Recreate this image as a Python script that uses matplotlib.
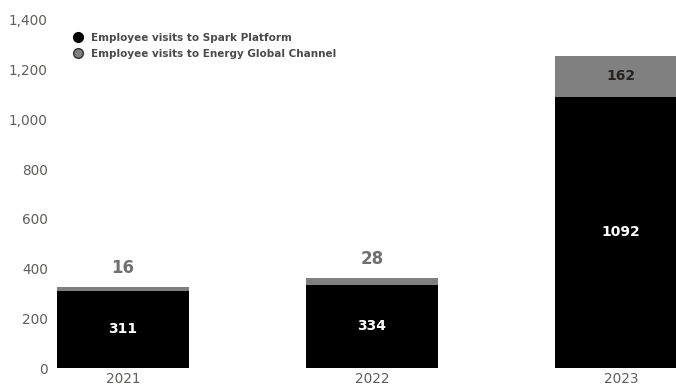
import numpy as np
import matplotlib.pyplot as plt

# datos del gráfico
years = ["2021", "2022", "2023"]
spark = [311, 334, 1092]
energy = [16, 28, 162]
legend_names = ["Employee visits to Spark Platform", "Employee visits to Energy Global Channel"]

black = "#000000"
gray = "#808080"
txt = "#605E5C"

fig = plt.figure(figsize=(6.76, 3.87), dpi=100)
ax = fig.add_axes([50/676, 1-368/387, 1-50/676, (368-20)/387])

x = np.arange(len(years))
w = 0.534
ax.bar(x, spark, w, color=black)
ax.bar(x, energy, w, bottom=spark, color=gray)

# etiquetas de los valores
for i in range(len(years)):
    ax.text(x[i], spark[i]/2, str(spark[i]), ha="center", va="center",
            color="white", fontsize=10, fontweight="bold")
    if energy[i] < 100:
        ax.text(x[i], spark[i]+energy[i]+75, str(energy[i]), ha="center", va="center",
                color="#707070", fontsize=12, fontweight="bold")
    else:
        ax.text(x[i], spark[i]+energy[i]/2, str(energy[i]), ha="center", va="center",
                color="#252423", fontsize=10, fontweight="bold")

ax.set_xlim((50-123)/249, (676-123)/249)
ax.set_ylim(0, 1400)
ax.set_xticks(x)
ax.set_xticklabels(years)
ax.set_yticks(np.arange(0, 1401, 200))
ax.set_yticklabels([f"{v:,}" for v in range(0, 1401, 200)])
ax.tick_params(length=0, colors=txt, labelsize=9.8)
ax.tick_params(axis="y", pad=1.5)
ax.tick_params(axis="x", pad=3)
for s in ax.spines.values():
    s.set_visible(False)

# leyenda
h1 = plt.Line2D([], [], marker="o", ls="", color=black, markersize=7)
h2 = plt.Line2D([], [], marker="o", ls="", markerfacecolor=gray, markeredgecolor="#303030", markersize=7)
leg = ax.legend([h1, h2], legend_names, loc="upper left", bbox_to_anchor=(0.022, 0.99),
                frameon=False, fontsize=7.5, handletextpad=0.7, labelspacing=0.55, handlelength=1.0)
for t in leg.get_texts():
    t.set_color("#4a4a4a")
    t.set_fontweight("bold")

fig.savefig("out.png", dpi=100)
